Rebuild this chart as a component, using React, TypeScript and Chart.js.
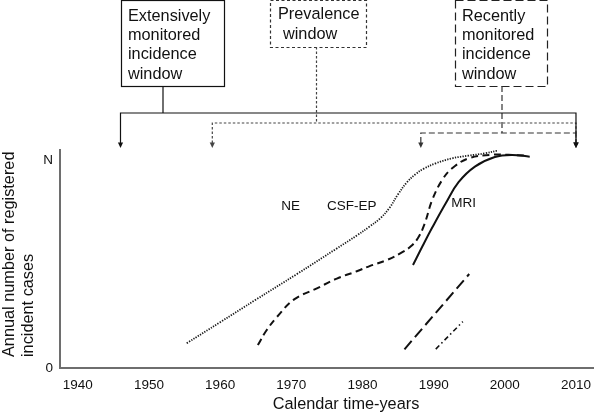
import React, { useEffect, useRef } from "react";
import { Chart, registerables } from "chart.js";

Chart.register(...registerables);

// ---- data ----
const xTickYears = [1940, 1950, 1960, 1970, 1980, 1990, 2000, 2010];
const yTickValues = [0, 1];
const yTickLabels = ["0", "N"];

const neYears = [1955.3, 1960, 1965, 1970.8, 1976.4, 1979.2, 1981.0, 1982.5, 1983.8, 1985.0, 1986.3, 1987.5, 1988.6, 1990.3, 1992.6, 1994.9, 1997.2, 1999.1];
const neValues = [0.119, 0.22, 0.328, 0.452, 0.575, 0.637, 0.68, 0.72, 0.77, 0.835, 0.895, 0.933, 0.958, 0.984, 1.008, 1.021, 1.032, 1.046];

const csfYears = [1965.3, 1966.5, 1968.1, 1970.4, 1973.6, 1976.4, 1979.2, 1981.0, 1983.5, 1985.6, 1986.8, 1987.8, 1988.7, 1989.8, 1991.2, 1992.6, 1994.9, 1998.0, 2000.5, 2002.8];
const csfValues = [0.11, 0.18, 0.25, 0.33, 0.383, 0.43, 0.465, 0.49, 0.52, 0.557, 0.585, 0.625, 0.69, 0.808, 0.904, 0.96, 1.008, 1.025, 1.025, 1.021];

const mriYears = [1987.1, 1988.5, 1989.8, 1991.7, 1993.5, 1995.8, 1998.6, 2001.0, 2003.5];
const mriValues = [0.495, 0.59, 0.675, 0.792, 0.893, 0.968, 1.014, 1.024, 1.016];

const longDashYears = [1985.9, 1995.0];
const longDashValues = [0.09, 0.452];

const dashDotYears = [1990.3, 1994.1];
const dashDotValues = [0.091, 0.223];

const curveLabels = ["NE", "CSF-EP", "MRI"];
const curveLabelYears = [1969.9, 1978.5, 1994.2];
const curveLabelValues = [0.779, 0.779, 0.79];

// window arrows (years the arrows point to)
const extensiveArrowYears = [1946, 2010];
const prevalenceArrowYears = [1958.9, 2010];
const recentArrowYears = [1988.2, 2010];

const extensiveText = ["Extensively", "monitored", "incidence", "window"];
const prevalenceText = ["Prevalence", "window"];
const recentText = ["Recently", "monitored", "incidence", "window"];

const xTitle = "Calendar time-years";
const yTitleLines = ["Annual number of registered", "incident cases"];

const FONT = '"Liberation Sans", Arial, Helvetica, sans-serif';

const toPts = (xs: number[], ys: number[]) => xs.map((x, i) => ({ x, y: ys[i] }));

export default function App() {
  const ref = useRef<HTMLCanvasElement | null>(null);

  useEffect(() => {
    if (!ref.current) return;

    const overlay = {
      id: "overlay",
      afterDraw(chart: any) {
        const ctx = chart.ctx as CanvasRenderingContext2D;
        const xs = chart.scales.x;
        const ys = chart.scales.y;
        ctx.save();

        // curve labels
        ctx.fillStyle = "#111";
        ctx.font = `13.5px ${FONT}`;
        ctx.textAlign = "center";
        ctx.textBaseline = "middle";
        curveLabels.forEach((t, i) => {
          ctx.fillText(t, xs.getPixelForValue(curveLabelYears[i]), ys.getPixelForValue(curveLabelValues[i]));
        });

        // axis titles
        ctx.font = `16.3px ${FONT}`;
        ctx.fillStyle = "#111";
        ctx.textAlign = "center";
        ctx.textBaseline = "middle";
        ctx.fillText(xTitle, 346, 405);
        ctx.save();
        ctx.translate(10, 357);
        ctx.rotate(-Math.PI / 2);
        ctx.textAlign = "left";
        ctx.fillText(yTitleLines[0], 0, 0);
        ctx.fillText(yTitleLines[1], 0, 19);
        ctx.restore();

        // boxes
        const box = (l: number, t: number, r: number, b: number, dash: number[], color: string) => {
          ctx.save();
          ctx.strokeStyle = color;
          ctx.lineWidth = 1.2;
          ctx.setLineDash(dash);
          ctx.strokeRect(l + 0.5, t + 0.5, r - l, b - t);
          ctx.restore();
        };
        box(121, 0, 224, 86, [], "#111");
        box(270, 0, 366, 47, [3, 2.5], "#333");
        box(455, 0, 547, 86, [8, 4], "#222");

        ctx.fillStyle = "#111";
        ctx.font = `16.3px ${FONT}`;
        ctx.textAlign = "left";
        ctx.textBaseline = "alphabetic";
        extensiveText.forEach((t, i) => ctx.fillText(t, 128, 20.5 + i * 19.4));
        ctx.fillText(prevalenceText[0], 278, 19);
        ctx.fillText(prevalenceText[1], 283, 38.5);
        recentText.forEach((t, i) => ctx.fillText(t, 462, 20.5 + i * 19.4));

        // connectors
        const tipY = 148;
        const arrowHead = (x: number, color: string) => {
          ctx.save();
          ctx.setLineDash([]);
          ctx.fillStyle = color;
          ctx.beginPath();
          ctx.moveTo(x - 2.6, tipY - 5.5);
          ctx.lineTo(x + 2.6, tipY - 5.5);
          ctx.lineTo(x, tipY);
          ctx.closePath();
          ctx.fill();
          ctx.restore();
        };
        const bracket = (
          srcX: number, srcY: number, hY: number, years: number[], dash: number[], color: string
        ) => {
          const ax = years.map((y) => xs.getPixelForValue(y));
          ctx.save();
          ctx.strokeStyle = color;
          ctx.lineWidth = 1.2;
          ctx.setLineDash(dash);
          ctx.beginPath();
          ctx.moveTo(srcX, srcY);
          ctx.lineTo(srcX, hY);
          ctx.moveTo(ax[0], tipY - 5);
          ctx.lineTo(ax[0], hY);
          ctx.lineTo(ax[1], hY);
          ctx.lineTo(ax[1], tipY - 5);
          ctx.stroke();
          ctx.restore();
          ax.forEach((x) => arrowHead(x, color));
        };
        bracket(502, 86, 133, recentArrowYears, [6, 3], "#333");
        bracket(316.5, 47, 123, prevalenceArrowYears, [2.5, 2], "#444");
        bracket(163, 86, 113, extensiveArrowYears, [], "#111");

        ctx.restore();
      },
    };

    const chart = new Chart(ref.current, {
      type: "line",
      data: {
        datasets: [
          {
            data: toPts(neYears, neValues),
            borderColor: "#1a1a1a",
            borderWidth: 1.8,
            borderDash: [1.3, 1.3],
            pointRadius: 0,
            tension: 0.4,
            fill: false,
          },
          {
            data: toPts(csfYears, csfValues),
            borderColor: "#111",
            borderWidth: 2,
            borderDash: [7, 4.5],
            pointRadius: 0,
            tension: 0.4,
            fill: false,
          },
          {
            data: toPts(mriYears, mriValues),
            borderColor: "#111",
            borderWidth: 2,
            pointRadius: 0,
            tension: 0.4,
            fill: false,
          },
          {
            data: toPts(longDashYears, longDashValues),
            borderColor: "#111",
            borderWidth: 2,
            borderDash: [11, 5],
            pointRadius: 0,
            fill: false,
          },
          {
            data: toPts(dashDotYears, dashDotValues),
            borderColor: "#111",
            borderWidth: 1.6,
            borderDash: [5, 3, 1.5, 3],
            pointRadius: 0,
            fill: false,
          },
        ],
      } as any,
      options: {
        animation: false,
        responsive: true,
        maintainAspectRatio: false,
        layout: { padding: { top: 150, left: 0, right: 0, bottom: 0 } },
        plugins: { legend: { display: false }, tooltip: { enabled: false }, title: { display: false } },
        scales: {
          x: {
            type: "linear",
            min: 1937.5,
            max: 2012.5,
            grid: { display: false, drawTicks: false },
            border: { display: true, color: "#6e6e6e", width: 2 },
            ticks: {
              font: { size: 13.5, family: FONT },
              color: "#111",
              padding: 9,
              maxRotation: 0,
              autoSkip: false,
              callback: (v: any) => String(v),
            },
            afterBuildTicks: (s: any) => {
              s.ticks = xTickYears.map((v) => ({ value: v }));
            },
            afterFit: (s: any) => {
              s.height = 47;
            },
          },
          y: {
            type: "linear",
            min: 0,
            max: 1.048,
            grid: { display: false, drawTicks: false },
            border: { display: true, color: "#6e6e6e", width: 2 },
            ticks: {
              font: { size: 13.5, family: FONT },
              color: "#111",
              padding: 7,
              autoSkip: false,
              callback: (v: any) => {
                const i = yTickValues.indexOf(Number(v));
                return i >= 0 ? yTickLabels[i] : "";
              },
            },
            afterBuildTicks: (s: any) => {
              s.ticks = yTickValues.map((v) => ({ value: v }));
            },
            afterFit: (s: any) => {
              s.width = 60;
            },
          },
        },
      } as any,
      plugins: [overlay],
    });

    return () => chart.destroy();
  }, []);

  return (
    <div style={{ position: "fixed", left: 0, top: 0, width: 600, height: 415, background: "#fff" }}>
      <canvas ref={ref} />
    </div>
  );
}
